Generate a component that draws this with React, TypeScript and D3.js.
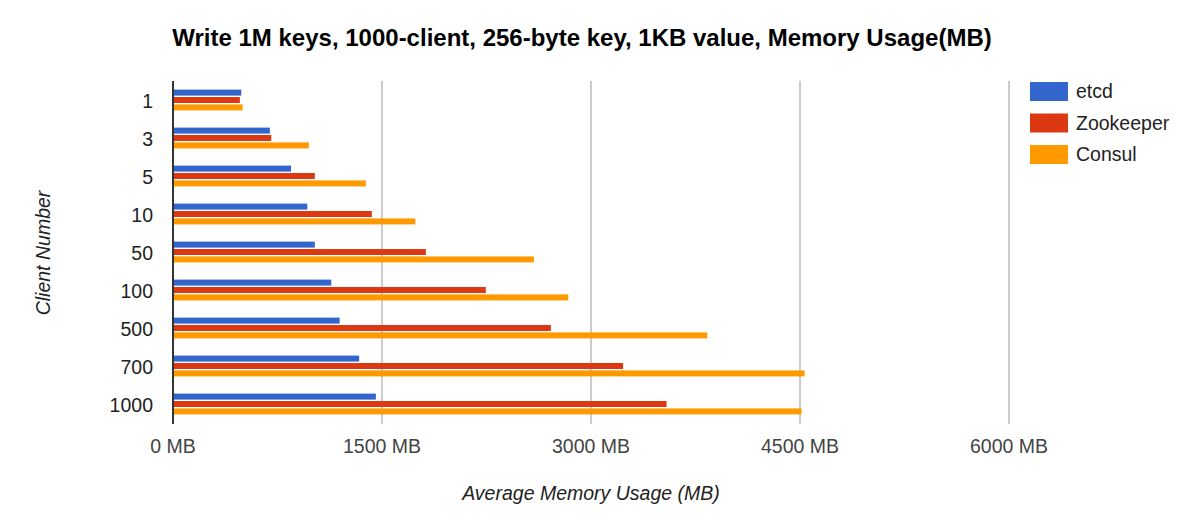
import React from "react";
import * as d3 from "d3";

const categories = ["1", "3", "5", "10", "50", "100", "500", "700", "1000"];
const seriesNames = ["etcd", "Zookeeper", "Consul"];
const etcdValues = [490, 695, 847, 964, 1018, 1136, 1196, 1336, 1456];
const zookeeperValues = [480, 705, 1018, 1427, 1815, 2245, 2712, 3230, 3542];
const consulValues = [500, 975, 1384, 1739, 2590, 2837, 3834, 4533, 4511];
const xTicks = [0, 1500, 3000, 4500, 6000];
const colors = ["#3366cc", "#dc3912", "#ff9900"];

const W = 1191;
const H = 520;
const left = 173;
const right = 1009;
const top = 81;
const bottom = 423;
const font = "'Liberation Sans', Arial, sans-serif";

export default function App() {
  const series = [etcdValues, zookeeperValues, consulValues];
  const x = d3.scaleLinear().domain([0, 6000]).range([left, right]);
  const y = d3.scaleBand<string>().domain(categories).range([top, bottom]);
  const barH = 6;
  const step = 7.4;

  return (
    <svg width={W} height={H} style={{ position: "absolute", left: 0, top: 0, background: "#fff" }} fontFamily={font}>
      <rect width={W} height={H} fill="#fff" />
      <text x={582} y={46} textAnchor="middle" fontSize={24} fontWeight="bold" fill="#000">
        Write 1M keys, 1000-client, 256-byte key, 1KB value, Memory Usage(MB)
      </text>
      {xTicks.map((t) =>
        t === 0 ? null : (
          <line key={t} x1={x(t)} x2={x(t)} y1={top} y2={bottom + 1} stroke="#cccccc" strokeWidth={2} />
        )
      )}
      {categories.map((c, ci) =>
        series.map((vals, si) => {
          const cy = (y(c) as number) + y.bandwidth() / 2 + (si - 1) * step;
          return (
            <rect
              key={c + "-" + si}
              x={x(0)}
              y={cy - barH / 2}
              width={x(vals[ci]) - x(0)}
              height={barH}
              fill={colors[si]}
            />
          );
        })
      )}
      <line x1={x(0)} x2={x(0)} y1={top} y2={bottom + 1} stroke="#333" strokeWidth={2} />
      {xTicks.map((t) => (
        <text key={"xt" + t} x={x(t)} y={453} textAnchor="middle" fontSize={19.5} fill="#444">
          {t + " MB"}
        </text>
      ))}
      {categories.map((c) => (
        <text
          key={"yt" + c}
          x={153}
          y={(y(c) as number) + y.bandwidth() / 2 + 7.5}
          textAnchor="end"
          fontSize={19.5}
          fill="#222"
        >
          {c}
        </text>
      ))}
      <text x={591} y={500} textAnchor="middle" fontSize={19.5} fontStyle="italic" fill="#222">
        Average Memory Usage (MB)
      </text>
      <text
        transform={`translate(50,253) rotate(-90)`}
        textAnchor="middle"
        fontSize={19.5}
        fontStyle="italic"
        fill="#222"
      >
        Client Number
      </text>
      {seriesNames.map((n, i) => (
        <g key={n} transform={`translate(1030,${82 + i * 31.5})`}>
          <rect width={38} height={19} fill={colors[i]} />
          <text x={46} y={16} fontSize={19.5} fill="#222">
            {n}
          </text>
        </g>
      ))}
    </svg>
  );
}
